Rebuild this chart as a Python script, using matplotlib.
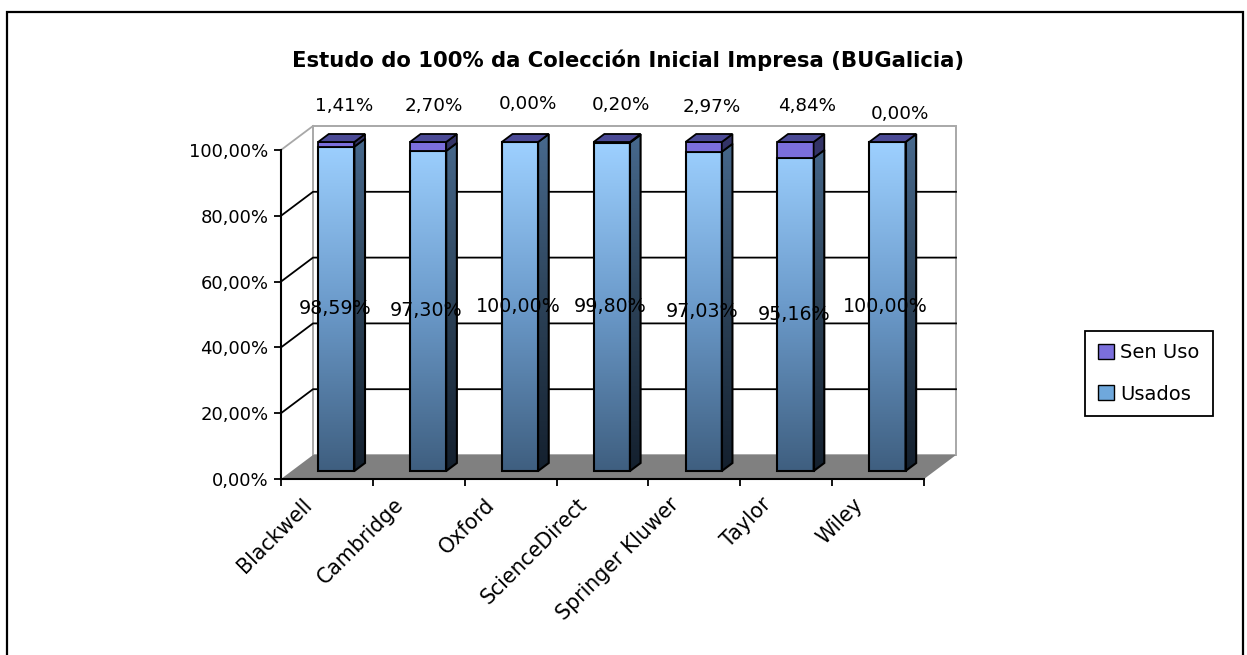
import numpy as np
import matplotlib
matplotlib.use("Agg")
import matplotlib.pyplot as plt
from matplotlib.patches import Polygon, Patch, Rectangle
from matplotlib.colors import LinearSegmentedColormap

categories = ["Blackwell", "Cambridge", "Oxford", "ScienceDirect", "Springer Kluwer", "Taylor", "Wiley"]
usados = [98.59, 97.30, 100.00, 99.80, 97.03, 95.16, 100.00]
sen_uso = [1.41, 2.70, 0.00, 0.20, 2.97, 4.84, 0.00]
yticks = [0, 20, 40, 60, 80, 100]
title = "Estudo do 100% da Colección Inicial Impresa (BUGalicia)"

W, H = 1247, 655
# plot area in pixels (front plane)
left, right, bottom, top = 281, 924, 479, 150
px_x = (right - left) / 7      # pixels per category
px_y = (bottom - top) / 100    # pixels per percent
depth_x, depth_y = 32, 24      # offset front plane -> back wall

def pct(v):
    return f"{v:.2f}%".replace(".", ",")

def proj(x, y, d=0.0):
    # oblique projection of the fake 3d box
    return (x + d * depth_x / px_x, y + d * depth_y / px_y)

fig = plt.figure(figsize=(W / 100, H / 100), dpi=100)
fig.patches.append(Rectangle((7 / W, -0.05), (1243 - 7) / W, (643 + 33) / H, transform=fig.transFigure,
                             fill=False, edgecolor="black", linewidth=1.6))
ax = fig.add_axes([left / W, (H - bottom) / H, (right - left) / W, 1.1 * (bottom - top) / H])
ax.patch.set_alpha(0)

front_cmap = LinearSegmentedColormap.from_list("front", ["#3f5f80", "#6b9aca", "#9dd0ff"])
side_cmap = LinearSegmentedColormap.from_list("side", ["#14202e", "#2c4258", "#47698d"])
grad = np.linspace(0, 1, 128).reshape(-1, 1)

def poly(pts, **kw):
    p = Polygon(pts, closed=True, clip_on=False, **kw)
    ax.add_patch(p)
    return p

# walls and floor
wall_gray = "#a8a8a8"
poly([proj(0, 0, 1), proj(7, 0, 1), proj(7, 100, 1), proj(0, 100, 1)], facecolor="white",
     edgecolor=wall_gray, linewidth=1.4, zorder=1)
poly([proj(0, 0), proj(7, 0), proj(7, 0, 1), proj(0, 0, 1)], facecolor="#808080", edgecolor="none", zorder=2)
for t in yticks[1:]:
    c = wall_gray if t == 100 else "black"
    xs, ys = zip(proj(0, t), proj(0, t, 1), proj(7, t, 1))
    if t == 100:
        xs, ys = xs[:2], ys[:2]
    ax.plot(xs, ys, color=c, linewidth=1.3, clip_on=False, zorder=1.5)

# bars
bar_w = 0.395
d0, d1 = 1 / 3, 2 / 3
for i, (u, s) in enumerate(zip(usados, sen_uso)):
    xc = i + 0.485
    x0, x1 = xc - bar_w / 2, xc + bar_w / 2

    # front of Usados, gradient clipped by the polygon
    pts = [proj(x0, 0, d0), proj(x1, 0, d0), proj(x1, u, d0), proj(x0, u, d0)]
    e = (pts[0][0], pts[1][0], pts[0][1], proj(0, 100, d0)[1])
    im = ax.imshow(grad, extent=e, origin="lower", cmap=front_cmap, aspect="auto", zorder=3)
    im.set_clip_path(poly(pts, facecolor="none", edgecolor="none", zorder=3))
    poly(pts, facecolor="none", edgecolor="black", linewidth=1.5, zorder=4)

    # side of Usados
    pts = [proj(x1, 0, d0), proj(x1, 0, d1), proj(x1, u, d1), proj(x1, u, d0)]
    e = (pts[0][0], pts[1][0], pts[0][1], proj(0, 100, d1)[1])
    im = ax.imshow(grad, extent=e, origin="lower", cmap=side_cmap, aspect="auto", zorder=3)
    im.set_clip_path(poly(pts, facecolor="none", edgecolor="none", zorder=3))
    poly(pts, facecolor="none", edgecolor="black", linewidth=1.5, zorder=4)

    # Sen Uso on top
    tot = u + s
    if s > 0:
        poly([proj(x0, u, d0), proj(x1, u, d0), proj(x1, tot, d0), proj(x0, tot, d0)],
             facecolor="#7b6fdc", edgecolor="black", linewidth=1.3, zorder=5)
        poly([proj(x1, u, d0), proj(x1, u, d1), proj(x1, tot, d1), proj(x1, tot, d0)],
             facecolor="#333366", edgecolor="black", linewidth=1.3, zorder=5)
    poly([proj(x0, tot, d0), proj(x1, tot, d0), proj(x1, tot, d1), proj(x0, tot, d1)],
         facecolor="#4b4a96", edgecolor="black", linewidth=1.3, zorder=5)

# data labels
label_nudge_x = [7, 4, 7, 8, 7, 10, 11]
label_nudge_y = [0, 0, 2, 1, -1, 0, -8]
for i in range(7):
    xm, ym = proj(i + 0.5, usados[i] / 2, d0)
    ax.annotate(pct(usados[i]), (xm, ym), xytext=(-3 / 1.389, 0), textcoords="offset points", ha="center",
                va="center", fontsize=13.7, zorder=8, annotation_clip=False)
    xt, yt = proj(i + 0.5, 100, d0)
    ax.annotate(pct(sen_uso[i]), (xt, yt), ha="center", va="center", fontsize=13.2, zorder=8,
                xytext=(label_nudge_x[i] * 0.72, (36 + label_nudge_y[i]) * 0.72), textcoords="offset points",
                annotation_clip=False)

# axes
ax.set_xlim(0, 7)
ax.set_ylim(0, 110)
for sp in ["top", "right"]:
    ax.spines[sp].set_visible(False)
ax.spines["left"].set_bounds(0, 100)
ax.spines["left"].set_linewidth(1.5)
ax.spines["bottom"].set_linewidth(1.5)
ax.spines["left"].set_zorder(6)
ax.spines["bottom"].set_zorder(6)
ax.set_yticks(yticks)
ax.set_yticklabels([pct(t) for t in yticks], fontsize=13)
ax.tick_params(axis="y", length=5, width=1.3, pad=4)
ax.set_xticks(range(8))
ax.set_xticklabels([])
ax.tick_params(axis="x", length=5, width=1.3)

for i, c in enumerate(categories):
    ax.annotate(c, (i + 0.5, 0), xytext=(-18.5, -11), textcoords="offset points", rotation=45,
                rotation_mode="anchor", ha="right", va="top", fontsize=14.8, annotation_clip=False)

fig.text(628 / W, 1 - 60 / H, title, ha="center", va="center", fontsize=15.2, fontweight="bold")

handles = [Patch(facecolor="#7b6fdc", edgecolor="black", label="Sen Uso"),
           Patch(facecolor="#6fa8dc", edgecolor="black", label="Usados")]
leg = fig.legend(handles=handles, loc="center", bbox_to_anchor=(1149 / W, 1 - 373.5 / H), fontsize=14,
                 fancybox=False, edgecolor="black", framealpha=1, handlelength=0.8, handleheight=0.8,
                 handletextpad=0.35, labelspacing=1.15, borderpad=0.65, borderaxespad=0)
leg.get_frame().set_linewidth(1.3)

fig.savefig("out.png", dpi=100)
